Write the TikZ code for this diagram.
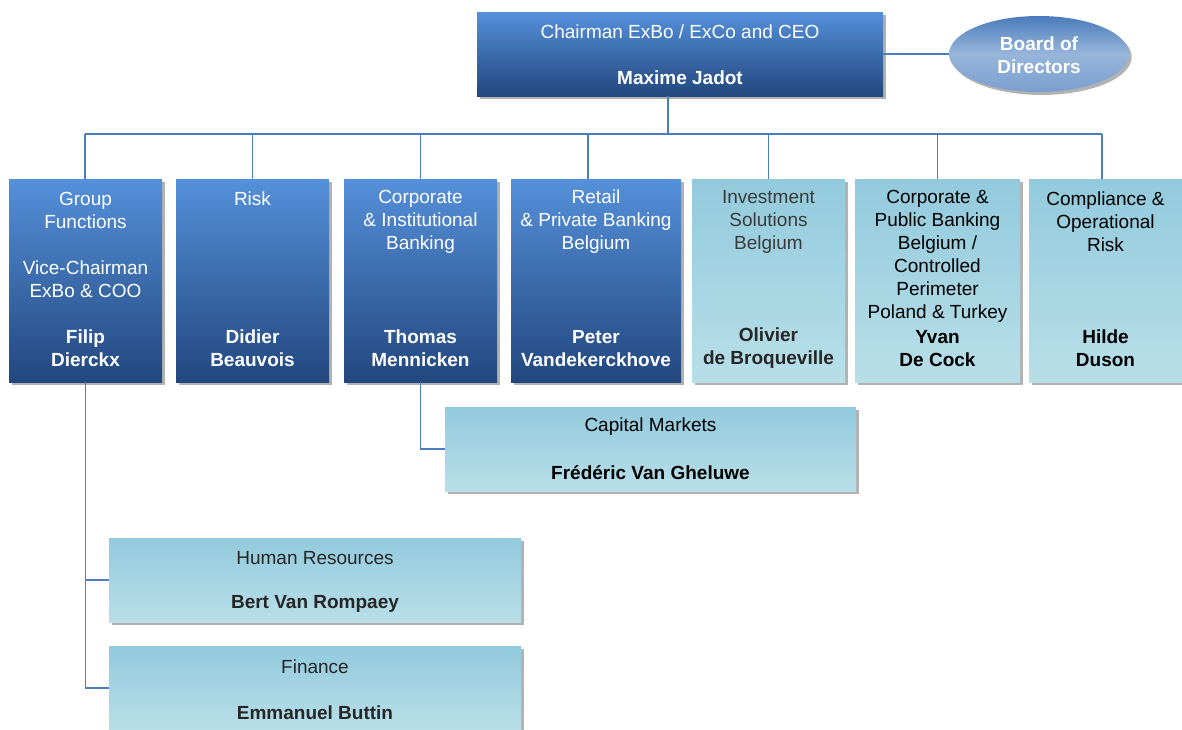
\documentclass[tikz,border=0pt]{standalone}
\usepackage{fontspec}
\setmainfont{Liberation Sans}
\usetikzlibrary{shadows,calc,shapes.geometric}
\definecolor{dkT}{HTML}{5590DA}
\definecolor{dkB}{HTML}{22477E}
\definecolor{ltT}{HTML}{92CADD}
\definecolor{ltB}{HTML}{B8DFE8}
\definecolor{ln}{HTML}{4A7EBE}
\definecolor{tx}{HTML}{262626}
\definecolor{txg}{HTML}{3A3A3A}
\definecolor{elT}{HTML}{4A7BBA}
\definecolor{elM}{HTML}{98B6DA}
\definecolor{elB}{HTML}{7A9ED0}
\tikzset{
  shad/.style={drop shadow={shadow xshift=2pt, shadow yshift=-2.2pt, fill=black, opacity=0.3}},
  dkbox/.style={rectangle, inner sep=0, draw=none, top color=dkT, bottom color=dkB, shad},
  ltbox/.style={rectangle, inner sep=0, draw=none, top color=ltT, bottom color=ltB, shad},
  sz/.style 2 args={minimum width={#1*0.75pt}, minimum height={#2*0.75pt}},
  conn/.style={draw=ln, line width=0.8pt},
  txt/.style={font=\fontsize{14.25}{17.25}\selectfont, align=center, inner sep=0},
  wt/.style={txt, text=white},
  bk/.style={txt, text=tx},
  wtb/.style={wt, font=\fontsize{14.25}{17.25}\selectfont\bfseries},
  bkb/.style={bk, font=\fontsize{14.25}{17.25}\selectfont\bfseries},
}
\begin{document}
\begin{tikzpicture}[x=0.75pt,y=-0.75pt]
\clip (0,0) rectangle (1182,729);
\fill[white] (0,0) rectangle (1182,729);

% top
\node[dkbox, sz={406}{84}] (ceo) at (680,54) {};
\node[wt] (ceoT) at (680,32) {Chairman ExBo / ExCo and CEO};
\node[wtb] (ceoN) at (680,78) {Maxime Jadot};
\node[ellipse, inner sep=0, draw=none, top color=elT, bottom color=elB, middle color=elM, shad, sz={180}{76}] (bod) at (1039,54) {};
\node[wtb] (bodT) at (1039,55.5) {Board of\\Directors};

% columns
\node[dkbox, sz={153}{203}] (b1) at (85.5,280.5) {};
\node[dkbox, sz={153}{203}] (b2) at (252.5,280.5) {};
\node[dkbox, sz={153}{203}] (b3) at (420.5,280.5) {};
\node[dkbox, sz={170}{203}] (b4) at (596,280.5) {};
\node[ltbox, sz={153}{203}] (b5) at (768.5,280.5) {};
\node[ltbox, sz={165}{203}] (b6) at (937.5,280.5) {};
\node[ltbox, sz={153}{203}] (b7) at (1105.5,280.5) {};

\node[wt] (t1) at (85.5,245) {Group\\Functions\\[17.25pt]Vice-Chairman\\ExBo \& COO};
\node[wt] (t2) at (252.5,199) {Risk};
\node[wt] (t3) at (420.5,222) {Corporate\\\& Institutional\\Banking};
\node[wt] (t4) at (596,222) {Retail\\\& Private Banking\\Belgium};
\node[txt, text=txg] (t5) at (768.5,222) {Investment\\Solutions\\Belgium};
\node[bk, text=black] (t6) at (937.5,256.5) {Corporate \&\\Public Banking\\Belgium /\\Controlled\\Perimeter\\Poland \& Turkey};
\node[bk, text=black] (t7) at (1105.5,222) {Compliance \&\\Operational\\Risk};

\node[wtb] (n1) at (85.5,348.5) {Filip\\Dierckx};
\node[wtb] (n2) at (252.5,348.5) {Didier\\Beauvois};
\node[wtb] (n3) at (420.5,348.5) {Thomas\\Mennicken};
\node[wtb] (n4) at (596,348.5) {Peter\\Vandekerckhove};
\node[bkb] (n5) at (768.5,348.5) {Olivier\\de Broqueville};
\node[bkb, text=black] (n6) at (937.5,348.5) {Yvan\\De Cock};
\node[bkb, text=black] (n7) at (1105.5,348.5) {Hilde\\Duson};

% sub boxes
\node[ltbox, sz={411}{84}] (cm) at (650.5,449) {};
\node[bk, text=black] (cmT) at (650.5,427) {Capital Markets};
\node[bkb, text=black] (cmN) at (650.5,473) {Frédéric Van Gheluwe};
\node[ltbox, sz={412}{84}] (hr) at (315,580) {};
\node[bk] (hrT) at (315,558) {Human Resources};
\node[bkb] (hrN) at (315,604) {Bert Van Rompaey};
\node[ltbox, sz={412}{84}] (fin) at (315,688) {};
\node[bk] (finT) at (315,667) {Finance};
\node[bkb] (finN) at (315,713) {Emmanuel Buttin};

% connectors
\coordinate (bL) at (85,134);
\coordinate (bR) at (1102,134);
\coordinate (ct) at (668,96);
\draw[conn] (ct) -- (ct |- bL);
\draw[conn] (bL) -- (bR);
\draw[conn] (ceo.east) -- (bod.west);
\draw[conn] (b1.north -| bL) -- (bL);
\draw[conn] (b2.north) -- (b2.north |- bL);
\draw[conn] (b3.north) -- (b3.north |- bL);
\draw[conn] ($(b4.north)+(-8,0)$) -- ($(b4.north |- bL)+(-8,0)$);
\draw[conn] (b5.north) -- (b5.north |- bL);
\draw[conn] (b6.north) -- (b6.north |- bL);
\draw[conn] (b7.north -| bR) -- (bR);
\draw[conn] (b3.south) |- (cm.west);
\draw[conn] (b1.south) |- (hr.west);
\draw[conn] (b1.south) |- (fin.west);
\end{tikzpicture}
\end{document}
